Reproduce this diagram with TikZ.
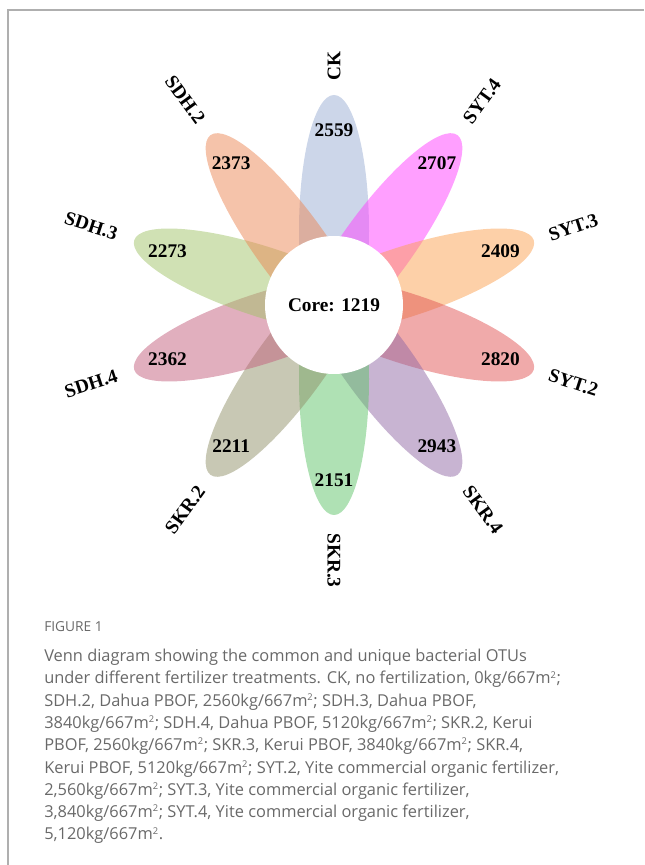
\documentclass[tikz,border=0pt]{standalone}
\usepackage{fontspec}
\setmainfont{Liberation Serif}
\newfontfamily\capfont{Open Sans}
\usetikzlibrary{positioning}

\definecolor{framegray}{RGB}{175,175,175}
\definecolor{capgray}{RGB}{105,105,105}
\definecolor{ckcol}{RGB}{153,173,211}
\definecolor{sytfour}{RGB}{255,64,255}
\definecolor{sytthree}{RGB}{251,161,81}
\definecolor{syttwo}{RGB}{225,85,85}
\definecolor{skrfour}{RGB}{145,105,165}
\definecolor{skrthree}{RGB}{95,195,105}
\definecolor{skrtwo}{RGB}{145,145,105}
\definecolor{sdhfour}{RGB}{195,95,125}
\definecolor{sdhthree}{RGB}{161,195,105}
\definecolor{sdhtwo}{RGB}{235,135,85}

\newcommand{\msq}{m\textsuperscript{\scriptsize 2}}

\begin{document}
\begin{tikzpicture}[x=0.75pt,y=0.75pt,
  petal/.style={fill opacity=0.5},
  count/.style={font=\bfseries\fontsize{14.5}{16}\selectfont, inner sep=0pt},
  group/.style={font=\bfseries\fontsize{14.5}{16}\selectfont, inner sep=0pt},
  core/.style={circle, fill=white, minimum size=103.5pt, inner sep=0pt,
    font=\bfseries\fontsize{14.5}{16}\selectfont}]

  \useasboundingbox (0,0) rectangle (644,865);

  % Frame lines (top and left)
  \draw[framegray, line width=1.1pt] (8,0) -- (8,855) -- (644,855);

  \begin{scope}[shift={(334,560)}]

    % Petals, one per treatment
    \fill[petal, fill=ckcol, rotate=90] (74,0) ellipse [x radius=136, y radius=35];
    \fill[petal, fill=sytfour, rotate=54] (74,0) ellipse [x radius=136, y radius=35];
    \fill[petal, fill=sytthree, rotate=18] (74,0) ellipse [x radius=136, y radius=35];
    \fill[petal, fill=syttwo, rotate=-18] (74,0) ellipse [x radius=136, y radius=35];
    \fill[petal, fill=skrfour, rotate=-54] (74,0) ellipse [x radius=136, y radius=35];
    \fill[petal, fill=skrthree, rotate=-90] (74,0) ellipse [x radius=136, y radius=35];
    \fill[petal, fill=skrtwo, rotate=-126] (74,0) ellipse [x radius=136, y radius=35];
    \fill[petal, fill=sdhfour, rotate=198] (74,0) ellipse [x radius=136, y radius=35];
    \fill[petal, fill=sdhthree, rotate=162] (74,0) ellipse [x radius=136, y radius=35];
    \fill[petal, fill=sdhtwo, rotate=126] (74,0) ellipse [x radius=136, y radius=35];

    % Core circle
    \node[core] (core) at (0,0) {Core: 1219};

    % Unique OTU counts
    \node[count] (nck) at (90:175) {2559};
    \node[count] (nsyt4) at (54:175) {2707};
    \node[count] (nsyt3) at (18:175) {2409};
    \node[count] (nsyt2) at (-18:175) {2820};
    \node[count] (nskr4) at (-54:175) {2943};
    \node[count] (nskr3) at (-90:175) {2151};
    \node[count] (nskr2) at (-126:175) {2211};
    \node[count] (nsdh4) at (198:175) {2362};
    \node[count] (nsdh3) at (162:175) {2273};
    \node[count] (nsdh2) at (126:175) {2373};

    % Treatment names
    \node[group, rotate=90, anchor=west] (ck) at (90:224) {CK};
    \node[group, rotate=54, anchor=west] (syt4) at (54:226) {SYT.4};
    \node[group, rotate=18, anchor=west] (syt3) at (18:226) {SYT.3};
    \node[group, rotate=-18, anchor=west] (syt2) at (-18:226) {SYT.2};
    \node[group, rotate=-54, anchor=west] (skr4) at (-54:226) {SKR.4};
    \node[group, rotate=-90, anchor=west] (skr3) at (-90:228) {SKR.3};
    \node[group, rotate=54, anchor=east] (skr2) at (-126:226) {SKR.2};
    \node[group, rotate=18, anchor=east] (sdh4) at (198:228) {SDH.4};
    \node[group, rotate=-18, anchor=east] (sdh3) at (162:228) {SDH.3};
    \node[group, rotate=-54, anchor=east] (sdh2) at (126:226) {SDH.2};

  \end{scope}

  % Caption
  \node[anchor=base west, inner sep=0pt, text=capgray,
    font=\capfont\fontsize{10.3}{12}\selectfont] (fig) at (44,233) {FIGURE 1};
  \node[anchor=north west, inner sep=0pt, text=capgray, align=left,
    font=\capfont\fontsize{12.3}{16.7}\selectfont] (cap) at (44,216) {%
    Venn diagram showing the common and unique bacterial OTUs\\
    under different fertilizer treatments. CK, no fertilization, 0kg/667\msq;\\
    SDH.2, Dahua PBOF, 2560kg/667\msq; SDH.3, Dahua PBOF,\\
    3840kg/667\msq; SDH.4, Dahua PBOF, 5120kg/667\msq; SKR.2, Kerui\\
    PBOF, 2560kg/667\msq; SKR.3, Kerui PBOF, 3840kg/667\msq; SKR.4,\\
    Kerui PBOF, 5120kg/667\msq; SYT.2, Yite commercial organic fertilizer,\\
    2,560kg/667\msq; SYT.3, Yite commercial organic fertilizer,\\
    3,840kg/667\msq; SYT.4, Yite commercial organic fertilizer,\\
    5,120kg/667\msq.};

\end{tikzpicture}
\end{document}
